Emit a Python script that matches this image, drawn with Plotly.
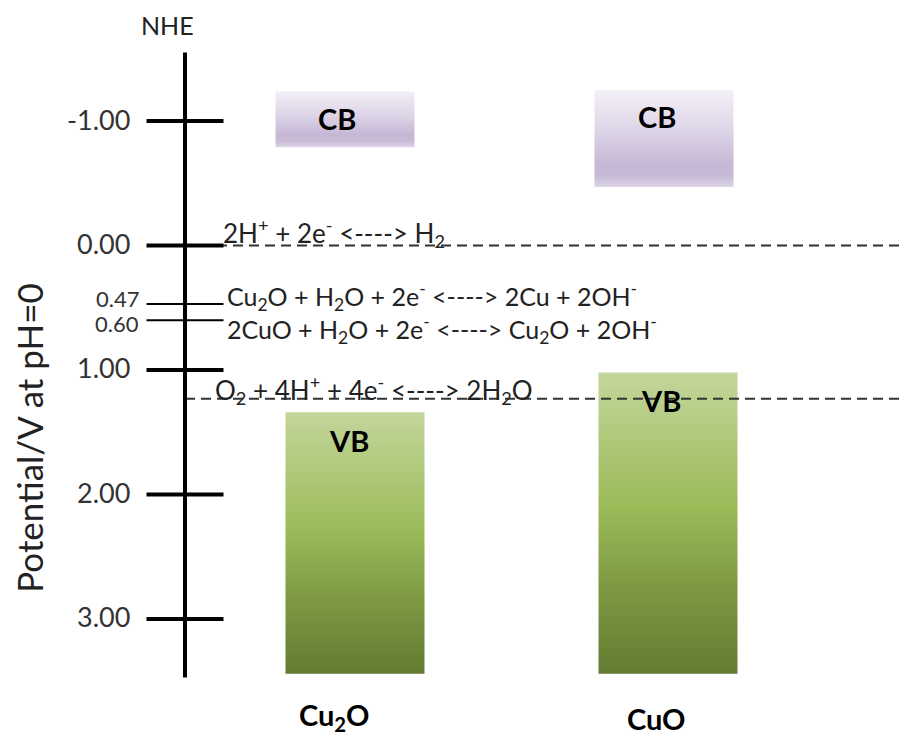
import plotly.graph_objects as go

# ---- data ----
materials = ["Cu<sub>2</sub>O", "CuO"]
cb_top = [-1.24, -1.25]
cb_bottom = [-0.79, -0.47]
vb_top = [1.34, 1.02]
vb_bottom = [3.44, 3.44]

tick_vals = [-1.00, 0.00, 0.47, 0.60, 1.00, 2.00, 3.00]
tick_text = ["-1.00", "0.00", "0.47", "0.60", "1.00", "2.00", "3.00"]
tick_major = [True, True, False, False, True, True, True]

redox_levels = [0.00, 1.23]
redox_labels = [
    "2H<sup>+</sup> + 2e<sup>-</sup> <----> H<sub>2</sub>",
    "O<sub>2</sub> + 4H<sup>+</sup> + 4e<sup>-</sup> <----> 2H<sub>2</sub>O",
]
cu_levels = [0.47, 0.60]
cu_labels = [
    "Cu<sub>2</sub>O + H<sub>2</sub>O + 2e<sup>-</sup> <----> 2Cu + 2OH<sup>-</sup>",
    "2CuO + H<sub>2</sub>O + 2e<sup>-</sup> <----> Cu<sub>2</sub>O + 2OH<sup>-</sup>",
]

# ---- layout constants (pixel-like x coordinates) ----
W, H = 907, 736
AXIS_X = 185
CB_CENTER = [345, 664]
VB_CENTER = [355, 668]
BAR_W = 139
CB_LABEL_X = [337, 657]
VB_LABEL_X = [349, 661]
NAME_X = [334, 656]
NAME_SHIFT = [20, 18]
FONT = "Lato, 'Open Sans', sans-serif"
Y_TOP, Y_BOT = -1.972, 3.94
AXIS_Y0, AXIS_Y1 = -1.55, 3.47

# colour scales run from the bottom edge (0) to the top edge (1)
CB_SCALE = [[0, "#DDD5E7"], [0.1, "#C9BCD8"], [0.22, "#C5B7D5"], [0.55, "#DCD3E6"], [1, "#F3F0F7"]]
VB_SCALE = [[0, "#637C32"], [0.3, "#7E9B43"], [0.55, "#9BBB59"], [1, "#C3D69B"]]

fig = go.Figure()

def box(cx, y0, y1, scale):
    x0, x1 = cx - BAR_W / 2, cx + BAR_W / 2
    fig.add_trace(go.Scatter(
        x=[x0, x1, x1, x0, x0], y=[y0, y0, y1, y1, y0],
        mode="lines", line=dict(width=0), fill="toself",
        fillgradient=dict(type="vertical", colorscale=scale),
        hoverinfo="skip", showlegend=False))

for i in range(len(materials)):
    box(CB_CENTER[i], cb_top[i], cb_bottom[i], CB_SCALE)
    box(VB_CENTER[i], vb_top[i], vb_bottom[i], VB_SCALE)

# dashed reference lines
for lv in redox_levels:
    fig.add_trace(go.Scatter(x=[AXIS_X, W - 4], y=[lv, lv], mode="lines",
                             line=dict(color="#333333", width=2, dash="10px,6px"),
                             hoverinfo="skip", showlegend=False))

# vertical axis line
fig.add_trace(go.Scatter(x=[AXIS_X, AXIS_X], y=[AXIS_Y0, AXIS_Y1], mode="lines",
                         line=dict(color="black", width=4), hoverinfo="skip", showlegend=False))

# cross ticks
maj = [v for v, m in zip(tick_vals, tick_major) if m]
mnr = [v for v, m in zip(tick_vals, tick_major) if not m]
fig.add_trace(go.Scatter(x=[AXIS_X] * len(maj), y=maj, mode="markers",
                         marker=dict(symbol="line-ew", size=55, line=dict(color="black", width=4)),
                         hoverinfo="skip", showlegend=False))
fig.add_trace(go.Scatter(x=[AXIS_X] * len(mnr), y=mnr, mode="markers",
                         marker=dict(symbol="line-ew", size=55, line=dict(color="black", width=2)),
                         hoverinfo="skip", showlegend=False))

ann = []
# tick labels
minor_shift = {0.47: 6, 0.60: -3}
for v, t, m in zip(tick_vals, tick_text, tick_major):
    ann.append(dict(x=131 if m else 140, y=v, text=t, xanchor="right", yanchor="middle",
                    yshift=minor_shift.get(v, 2), borderpad=0,
                    showarrow=False, font=dict(family=FONT, size=27 if m else 22, color="#333333")))

# reaction labels
ann.append(dict(x=221, y=redox_levels[0], text=redox_labels[0], xanchor="left", yanchor="middle",
                yshift=13, showarrow=False, font=dict(family=FONT, size=26, color="#222222")))
ann.append(dict(x=213, y=redox_levels[1], text=redox_labels[1], xanchor="left", yanchor="middle",
                yshift=9, showarrow=False, font=dict(family=FONT, size=26, color="#222222")))
for lv, lb, sh in zip(cu_levels, cu_labels, [8, -9]):
    ann.append(dict(x=226, y=lv, text=lb, xanchor="left", yanchor="middle", yshift=sh, borderpad=0,
                    showarrow=False, font=dict(family=FONT, size=25, color="#222222")))

# band labels
for i in range(len(materials)):
    ann.append(dict(x=CB_LABEL_X[i], y=cb_top[i], text="<b>CB</b>",
                    xanchor="center", yanchor="middle", yshift=-27, showarrow=False,
                    font=dict(family=FONT, size=29, color="black")))
    ann.append(dict(x=VB_LABEL_X[i], y=vb_top[i], text="<b>VB</b>",
                    xanchor="center", yanchor="middle", yshift=-28, showarrow=False,
                    font=dict(family=FONT, size=29, color="black")))
    ann.append(dict(x=NAME_X[i], y=0, yref="paper", text="<b>" + materials[i] + "</b>",
                    xanchor="center", yanchor="middle", yshift=NAME_SHIFT[i], showarrow=False,
                    font=dict(family=FONT, size=29, color="black")))

ann.append(dict(x=167, y=1, yref="paper", text="NHE", xanchor="center", yanchor="middle", yshift=-25,
                showarrow=False, font=dict(family=FONT, size=25, color="#222222")))
ann.append(dict(x=29, y=1.52, text="Potential/V at pH=0", textangle=-90, xanchor="center",
                yanchor="middle", yshift=-3, showarrow=False,
                font=dict(family=FONT, size=35, color="#222222")))

fig.update_layout(
    width=W, height=H, margin=dict(l=0, r=0, t=0, b=0),
    paper_bgcolor="white", plot_bgcolor="white",
    xaxis=dict(range=[0, W], visible=False, fixedrange=True),
    yaxis=dict(range=[Y_BOT, Y_TOP], visible=False, fixedrange=True),
    annotations=ann, showlegend=False)

fig.write_html("out.html")
